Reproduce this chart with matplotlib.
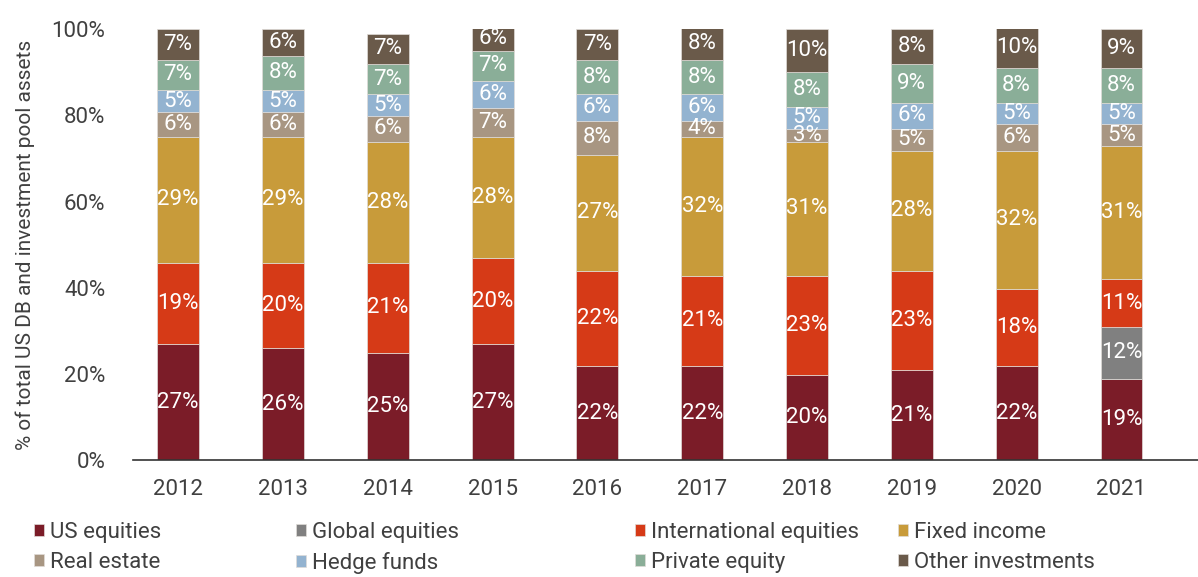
import matplotlib.pyplot as plt
import numpy as np

plt.rcParams['font.family'] = ['Roboto', 'DejaVu Sans']

# Data (share of total assets, %)
years = ['2012', '2013', '2014', '2015', '2016', '2017', '2018', '2019', '2020', '2021']
us_equities = [26.9, 25.9, 24.9, 26.9, 21.8, 21.8, 19.8, 20.8, 21.8, 18.9]
global_equities = [0, 0, 0, 0, 0, 0, 0, 0, 0, 12.0]
intl_equities = [18.9, 19.9, 20.9, 19.9, 22.1, 21.0, 23.0, 23.1, 18.0, 11.1]
fixed_income = [29.2, 29.2, 28.1, 28.2, 26.9, 32.2, 31.1, 27.9, 32.0, 30.9]
real_estate = [5.8, 5.8, 6.0, 6.8, 8.0, 3.8, 3.0, 5.1, 6.1, 5.0]
hedge_funds = [5.1, 5.1, 5.0, 6.2, 6.1, 6.1, 5.1, 6.0, 5.0, 5.0]
private_equity = [7.0, 8.0, 7.1, 7.0, 8.0, 8.0, 8.0, 9.1, 8.1, 8.1]
other_inv = [7.1, 6.1, 7.0, 5.6, 7.1, 7.6, 10.0, 8.0, 9.6, 9.0]

series_names = ['US equities', 'Global equities', 'International equities', 'Fixed income',
                'Real estate', 'Hedge funds', 'Private equity', 'Other investments']
series_vals = [us_equities, global_equities, intl_equities, fixed_income,
               real_estate, hedge_funds, private_equity, other_inv]
colors = ['#7B1C28', '#808080', '#D63A17', '#C89B3A',
          '#A89682', '#93B3D0', '#8AAE98', '#6A5A4A']

text_col = '#404040'

fig = plt.figure(figsize=(11.98, 5.77), dpi=100)
ax = fig.add_axes([133 / 1198, 117 / 577, 1 - 133 / 1198, (460 - 29.3) / 577])

x = np.arange(len(years))
bottom = np.zeros(len(years))
handles = []
for name, vals, c in zip(series_names, series_vals, colors):
    vals = np.array(vals, dtype=float)
    bars = ax.bar(x, vals, 0.40, bottom=bottom, color=c, edgecolor='#e0dcd8',
                  linewidth=0.5, label=name)
    handles.append(bars)
    for xi, b, v in zip(x, bottom, vals):
        if v > 0:
            ax.text(xi, b + v / 2, f'{v:.0f}%', ha='center', va='center',
                    color='white', fontsize=16)
    bottom += vals

ax.set_xlim(-0.43, 9.73)
ax.set_ylim(0, 100)
ax.set_yticks(np.arange(0, 101, 20))
ax.set_yticklabels([f'{t}%' for t in range(0, 101, 20)])
ax.set_xticks(x)
ax.set_xticklabels(years)
ax.tick_params(axis='both', length=0, labelsize=16, colors=text_col)
ax.tick_params(axis='y', pad=20)
ax.tick_params(axis='x', pad=14)
for s in ['top', 'right', 'left']:
    ax.spines[s].set_visible(False)
ax.spines['bottom'].set_color('#333333')
ax.spines['bottom'].set_linewidth(1.2)
ax.set_ylabel('% of total US DB and investment pool assets', fontsize=15,
              color=text_col, labelpad=12)

# Legend: four columns, two rows
col_x = [34, 296, 635, 898]
for ci in range(4):
    hs = [handles[ci], handles[ci + 4]]
    labs = [series_names[ci], series_names[ci + 4]]
    fig.legend(hs, labs, loc='upper left', bbox_to_anchor=(col_x[ci] / 1198, 1 - 522 / 577),
               frameon=False, fontsize=16, labelcolor=text_col, handlelength=0.45,
               handleheight=0.45, handletextpad=0.25, labelspacing=0.4,
               borderaxespad=0, borderpad=0)

plt.savefig('out.png', dpi=100)
